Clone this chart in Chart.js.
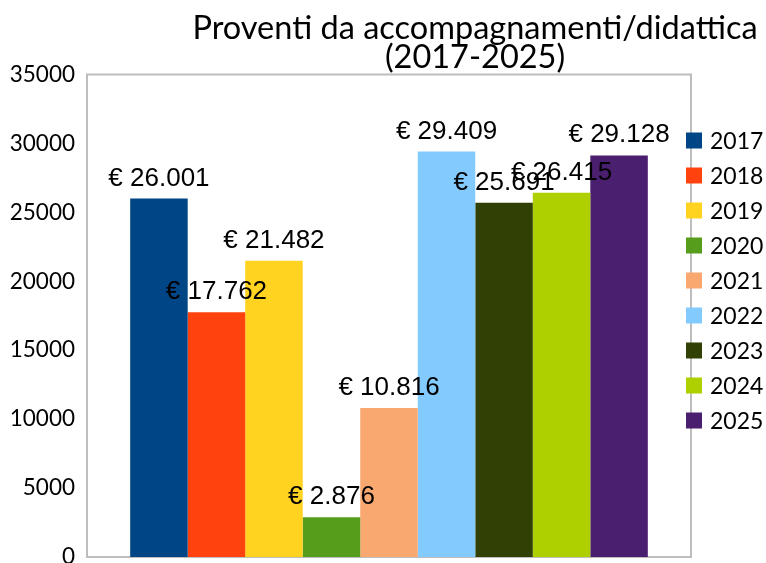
<!DOCTYPE html>
<html>
<head>
<meta charset="utf-8">
<script src="https://cdn.jsdelivr.net/npm/chart.js@4/dist/chart.umd.min.js"></script>
<style>
    html, body { margin: 0; padding: 0; overflow: hidden; background: #fff; }
    #chart { display: block; }
</style>
</head>
<body>
<canvas id="chart" width="766" height="580"></canvas>
<script>
// Data
const years = ['2017', '2018', '2019', '2020', '2021', '2022', '2023', '2024', '2025'];
const amounts = [26001, 17762, 21482, 2876, 10816, 29409, 25691, 26415, 29128];
const yTicks = [0, 5000, 10000, 15000, 20000, 25000, 30000, 35000];
const titleLines = ['Proventi da accompagnamenti/didattica', '(2017-2025)'];

// Colours (LibreOffice-ish palette)
const palette = ['#004586', '#ff420e', '#ffd320', '#579d1c', '#f9a870', '#83caff', '#314004', '#aecf00', '#4b1f6f'];

// "€ 26.001" style
function euro(v) {
    return '€ ' + String(v).replace(/\B(?=(\d{3})+(?!\d))/g, '.');
}

const overlay = {
    id: 'overlay',
    beforeDatasetsDraw(chart) {
        const { ctx, chartArea: a } = chart;
        ctx.save();
        ctx.strokeStyle = '#bdbdbd';
        ctx.lineWidth = 2;
        ctx.strokeRect(a.left, a.top, a.right - a.left, a.bottom - a.top);
        ctx.restore();
    },
    afterDatasetsDraw(chart) {
        const ctx = chart.ctx;
        ctx.save();
        ctx.font = "26px 'Liberation Sans', Arial, sans-serif";
        ctx.fillStyle = '#000';
        ctx.textAlign = 'center';
        ctx.textBaseline = 'alphabetic';
        chart.data.datasets.forEach((ds, i) => {
            const bar = chart.getDatasetMeta(i).data[0];
            ctx.fillText(euro(ds.data[0]), bar.x, bar.y - 13);
        });
        ctx.restore();
    },
    afterDraw(chart) {
        const ctx = chart.ctx;
        ctx.save();
        // Legend
        ctx.font = "23px Lato, sans-serif";
        ctx.textAlign = 'left';
        ctx.textBaseline = 'middle';
        years.forEach((y, i) => {
            const cy = 140.5 + i * 35;
            ctx.fillStyle = palette[i];
            ctx.fillRect(686, cy - 8, 16, 16);
            ctx.fillStyle = '#000';
            ctx.fillText(y, 710, cy + 1);
        });
        // Title
        ctx.font = "32.5px Lato, sans-serif";
        ctx.textAlign = 'center';
        ctx.textBaseline = 'alphabetic';
        ctx.fillText(titleLines[0], 475, 39);
        ctx.fillText(titleLines[1], 475, 68);
        ctx.restore();
    }
};

new Chart(document.getElementById('chart'), {
    type: 'bar',
    data: {
        labels: [''],
        datasets: years.map((y, i) => ({
            label: y,
            data: [amounts[i]],
            backgroundColor: palette[i],
            borderWidth: 0,
            categoryPercentage: 0.857,
            barPercentage: 1.0
        }))
    },
    options: {
        responsive: false,
        devicePixelRatio: 1,
        animation: false,
        layout: { padding: { top: 74.5, right: 75, bottom: 23, left: 0 } },
        plugins: {
            legend: { display: false },
            title: { display: false },
            tooltip: { enabled: false }
        },
        scales: {
            x: { display: false },
            y: {
                min: yTicks[0],
                max: yTicks[yTicks.length - 1],
                afterBuildTicks: (s) => { s.ticks = yTicks.map(v => ({ value: v })); },
                afterFit: (s) => { s.width = 87; },
                grid: { display: false },
                border: { display: false },
                ticks: {
                    color: '#000',
                    padding: 4,
                    font: { family: 'Lato', size: 22.5 },
                    callback: (v) => String(v)
                }
            }
        }
    },
    plugins: [overlay]
});
</script>
</body>
</html>
